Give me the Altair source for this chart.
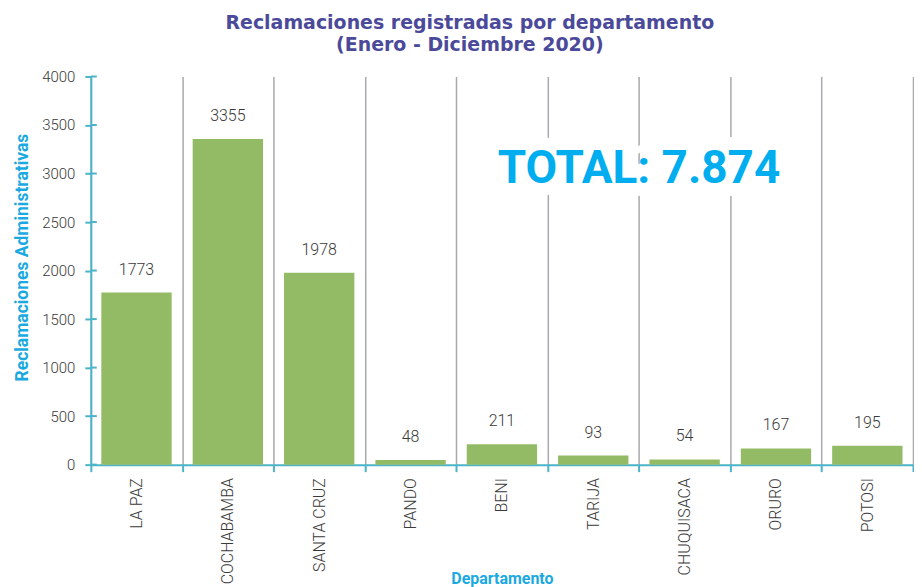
import altair as alt
import pandas as pd

departamentos = ["LA PAZ", "COCHABAMBA", "SANTA CRUZ", "PANDO", "BENI",
                 "TARIJA", "CHUQUISACA", "ORURO", "POTOSI"]
reclamaciones = [1773, 3355, 1978, 48, 211, 93, 54, 167, 195]
y_ticks = [0, 500, 1000, 1500, 2000, 2500, 3000, 3500, 4000]
total_text = "TOTAL: 7.874"
total_y = 3050
total_x = "CHUQUISACA"

df = pd.DataFrame({"dep": departamentos, "val": reclamaciones})
ticks_df = pd.DataFrame({"t": y_ticks})

LAB = "Roboto, sans-serif"
TEAL = "#4BB4C8"
CYAN = "#1BA9E1"
GREEN = "#93BB65"
DARK = "#3A3A3A"

xscale = alt.Scale(domain=departamentos, paddingInner=0, paddingOuter=0)
yscale = alt.Scale(domain=[0, 4000], nice=False)

x_enc = alt.X("dep:N", scale=xscale, sort=departamentos,
              axis=alt.Axis(title="Departamento", labelAngle=270, labelAlign="right",
                            labelBaseline="middle", labelFont=LAB, labelFontSize=16,
                            labelFontWeight=300,
                            labelColor=DARK, labelPadding=6, tickBand="extent",
                            tickColor=TEAL, tickSize=7, tickWidth=2,
                            domainColor=TEAL, domainWidth=2,
                            grid=True, gridColor="#A9A9AD", gridWidth=1.5,
                            titleFont=LAB, titleFontSize=16, titleFontWeight="bold",
                            titleColor=CYAN, titleY=119, titleBaseline="alphabetic"))
y_enc = alt.Y("val:Q", scale=yscale,
              axis=alt.Axis(title="Reclamaciones Administrativas", values=y_ticks,
                            format="d",
                            labelFont=LAB, labelFontSize=15, labelFontWeight=300,
                            labelColor=DARK,
                            labelPadding=10, tickColor=TEAL, tickSize=6, tickWidth=2,
                            domainColor=TEAL, domainWidth=2, grid=False,
                            titleFont=LAB, titleFontSize=17.5, titleFontWeight="bold",
                            titleColor=CYAN, titlePadding=10, titleY=181))

bars = alt.Chart(df).mark_bar(color=GREEN, width=alt.RelativeBandSize(0.77)).encode(
    x=x_enc, y=y_enc)

labels = alt.Chart(df).mark_text(baseline="bottom", dy=-15, font=LAB, fontWeight=300,
                                 fontSize=16, color=DARK).encode(
    x=alt.X("dep:N", scale=xscale, sort=departamentos),
    y=alt.Y("val:Q", scale=yscale),
    text=alt.Text("val:Q"))

inner_ticks = alt.Chart(ticks_df).mark_rule(color=TEAL, strokeWidth=2).encode(
    y=alt.Y("t:Q", scale=yscale), x=alt.value(0), x2=alt.value(6))

total_df = pd.DataFrame({"dep": [total_x], "val": [total_y], "txt": [total_text]})
total_bg = alt.Chart(total_df).mark_text(font=LAB, fontSize=46, fontWeight="bold",
                                         color="white", stroke="white", strokeWidth=26,
                                         strokeJoin="round", align="center",
                                         baseline="middle").encode(
    x=alt.X("dep:N", scale=xscale, sort=departamentos, bandPosition=0),
    y=alt.Y("val:Q", scale=yscale), text="txt:N")
total = alt.Chart(total_df).mark_text(font=LAB, fontSize=46, fontWeight="bold",
                                      color="#00AEEF", align="center",
                                      baseline="middle").encode(
    x=alt.X("dep:N", scale=xscale, sort=departamentos, bandPosition=0),
    y=alt.Y("val:Q", scale=yscale), text="txt:N")

chart = alt.layer(bars, inner_ticks, total_bg, total, labels).properties(
    width=824, height=389,
    padding={"left": 5, "top": 5, "right": 0, "bottom": 0},
    title=alt.TitleParams(["Reclamaciones registradas por departamento",
                           "(Enero - Diciembre 2020)"],
                          font="DejaVu Sans", fontSize=19, fontWeight="bold",
                          color="#4B4A9A", anchor="middle", frame="bounds",
                          lineHeight=22, offset=15, dx=6)
).configure_view(stroke=None)

chart.save("out.html", embed_options={"renderer": "svg", "actions": False})
